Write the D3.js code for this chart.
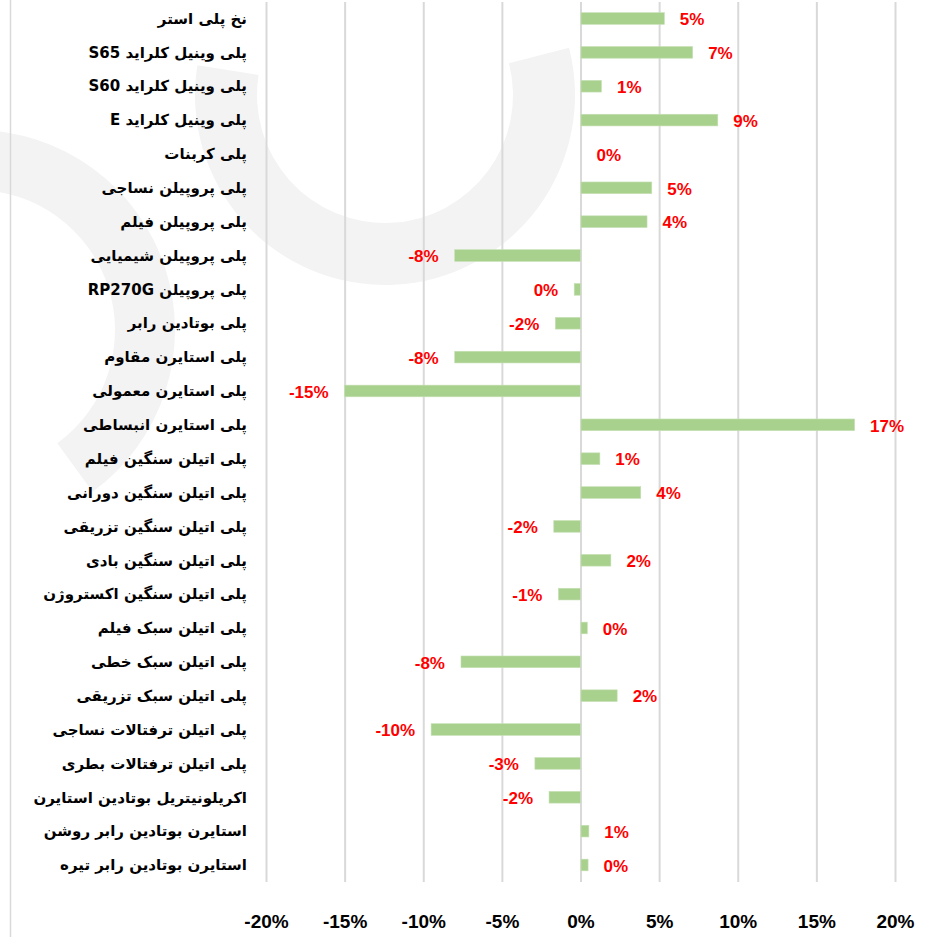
<!DOCTYPE html>
<html>
<head>
<meta charset="utf-8">
<script src="https://cdn.jsdelivr.net/npm/d3@7"></script>
<style>
body{margin:0;background:#fff;}
svg{display:block;}
</style>
</head>
<body>
<div id="chart"></div>
<script>
// price change chart

var w=925,h=937;

// data

var categories=["نخ پلی استر","پلی وینیل کلراید S65","پلی وینیل کلراید S60","پلی وینیل کلراید E","پلی کربنات",
	"پلی پروپیلن نساجی","پلی پروپیلن فیلم","پلی پروپیلن شیمیایی","پلی پروپیلن RP270G","پلی بوتادین رابر",
	"پلی استایرن مقاوم","پلی استایرن معمولی","پلی استایرن انبساطی","پلی اتیلن سنگین فیلم","پلی اتیلن سنگین دورانی",
	"پلی اتیلن سنگین تزریقی","پلی اتیلن سنگین بادی","پلی اتیلن سنگین اکستروژن","پلی اتیلن سبک فیلم","پلی اتیلن سبک خطی",
	"پلی اتیلن سبک تزریقی","پلی اتیلن ترفتالات نساجی","پلی اتیلن ترفتالات بطری","اکریلونیتریل بوتادین استایرن",
	"استایرن بوتادین رابر روشن","استایرن بوتادین رابر تیره"];
var values=[5.3,7.1,1.3,8.7,0.0,4.5,4.2,-8.0,-0.4,-1.6,-8.0,-15.0,17.4,1.2,3.8,-1.7,1.9,-1.4,0.4,-7.6,2.3,-9.5,-2.9,-2.0,0.5,0.45];
var labels=["5%","7%","1%","9%","0%","5%","4%","-8%","0%","-2%","-8%","-15%","17%","1%","4%","-2%","2%","-1%","0%","-8%","2%","-10%","-3%","-2%","1%","0%"];
var ticks=[-20,-15,-10,-5,0,5,10,15,20];

var rows=categories.map(function(c,i) {return {name:c,value:values[i],label:labels[i]};});

// scales

var x=d3.scaleLinear().domain([-20,20]).range([266,895]);
var y=d3.scaleBand().domain(categories).range([1.5,882]).paddingInner(0.655).paddingOuter(0.33);

var svg=d3.select("#chart").append("svg").attr("width",w).attr("height",h);

// faint watermark behind the chart
var wm=svg.append("g").style("fill","#f3f3f3");
wm.append("path").attr("transform","translate(385,95)")
	.attr("d",d3.arc()({innerRadius:128,outerRadius:190,startAngle:Math.PI*0.42,endAngle:Math.PI*1.55}));
wm.append("path").attr("transform","translate(-25,330)")
	.attr("d",d3.arc()({innerRadius:140,outerRadius:200,startAngle:0,endAngle:Math.PI*0.8}));

// left border
svg.append("line").attr("x1",10.5).attr("x2",10.5).attr("y1",0).attr("y2",h)
	.style("stroke","#d9d9d9").style("stroke-width",1.5);

// grid + tick labels
var xAxis=d3.axisBottom(x).tickValues(ticks).tickSize(-(880)).tickPadding(0)
	.tickFormat(function(d) {return d+"%";});
var gx=svg.append("g").attr("transform","translate(0,882)").call(xAxis);
gx.select(".domain").remove();
gx.selectAll(".tick line").style("stroke","#d9d9d9").style("stroke-width",2);
gx.selectAll(".tick text").attr("y",33)
	.style("font-family","'Liberation Sans',Arial,sans-serif").style("font-weight","bold")
	.style("font-size","19px").style("fill","#000");

// bars
svg.selectAll(".bar").data(rows).enter().append("rect")
	.attr("class","bar")
	.attr("x",function(d) {return x(Math.min(0,d.value))+(d.value<0?0:0.5);})
	.attr("width",function(d) {return Math.abs(x(d.value)-x(0));})
	.attr("y",function(d) {return y(d.name);})
	.attr("height",y.bandwidth())
	.style("fill","#a9d18e")
	.style("stroke","#c5e0b4").style("stroke-width",0.6);

// value labels
svg.selectAll(".val").data(rows).enter().append("text")
	.attr("class","val")
	.attr("x",function(d) {return d.value<0?x(d.value)-16:x(d.value)+16;})
	.attr("y",function(d) {return y(d.name)+y.bandwidth()/2;})
	.attr("dy","0.4em")
	.attr("text-anchor",function(d) {return d.value<0?"end":"start";})
	.style("font-family","'Liberation Sans',Arial,sans-serif").style("font-weight","bold")
	.style("font-size","17px").style("fill","#ff0000")
	.text(function(d) {return d.label;});

// category labels
svg.selectAll(".cat").data(rows).enter().append("text")
	.attr("class","cat")
	.attr("x",247)
	.attr("y",function(d) {return y(d.name)+y.bandwidth()/2;})
	.attr("dy","0.35em")
	.attr("direction","rtl")
	.attr("text-anchor","start")
	.style("font-family","Tahoma,'DejaVu Sans',sans-serif").style("font-weight","bold")
	.style("font-size","15px").style("fill","#000")
	.text(function(d) {return d.name;});
</script>
</body>
</html>
